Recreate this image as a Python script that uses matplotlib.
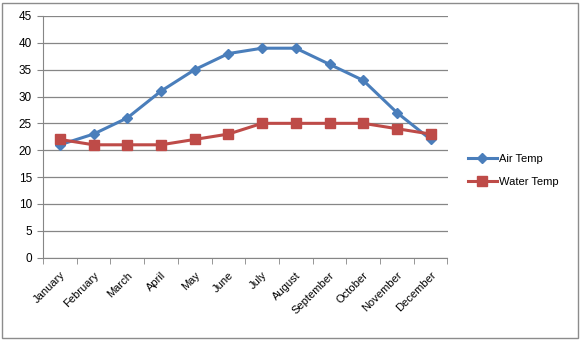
import numpy as np
import matplotlib.pyplot as plt
from matplotlib.patches import Rectangle

months = ["January", "February", "March", "April", "May", "June", "July",
          "August", "September", "October", "November", "December"]
air_temp = [21, 23, 26, 31, 35, 38, 39, 39, 36, 33, 27, 22]
water_temp = [22, 21, 21, 21, 22, 23, 25, 25, 25, 25, 24, 23]

plt.rcParams['font.family'] = ['Liberation Sans', 'DejaVu Sans']

fig = plt.figure(figsize=(5.81, 3.41), dpi=100)
fig.patches.append(Rectangle((2 / 581, 3 / 341), 576 / 581, 335 / 341,
                             transform=fig.transFigure, fill=False,
                             edgecolor="#8c8c8c", linewidth=1))
ax = fig.add_axes([43 / 581, 1 - 257.5 / 341, 404.5 / 581, 241.5 / 341])

x = np.arange(len(months))
ax.plot(x, air_temp, color="#4A7EBB", linewidth=2.2, marker="D",
        markersize=5, label="Air Temp")
ax.plot(x, water_temp, color="#BE4B48", linewidth=2.2, marker="s",
        markersize=7, label="Water Temp")

ax.set_xlim(-0.5, len(months) - 0.5)
ax.set_ylim(0, 45)
ax.set_yticks(np.arange(0, 46, 5))
ax.grid(axis="y", color="#868686", linewidth=0.9)
ax.set_axisbelow(True)

ax.set_xticks(x)
ax.set_xticklabels(months, rotation=45, ha="right", rotation_mode="anchor",
                   fontsize=8)
ax.set_xticks(np.arange(-0.5, len(months), 1), minor=True)
ax.tick_params(axis="x", which="major", length=0, pad=9)
ax.tick_params(axis="x", which="minor", length=4, color="#868686")
ax.tick_params(axis="y", length=4, color="#868686", labelsize=8.5, pad=4)

for s in ["top", "right"]:
    ax.spines[s].set_visible(False)
for s in ["left", "bottom"]:
    ax.spines[s].set_color("#868686")

ax.legend(loc="center left", bbox_to_anchor=(1.025, 0.36), frameon=False,
          fontsize=8, handlelength=2.6, labelspacing=1.2, handletextpad=0.2)

fig.savefig("out.png", dpi=100)
